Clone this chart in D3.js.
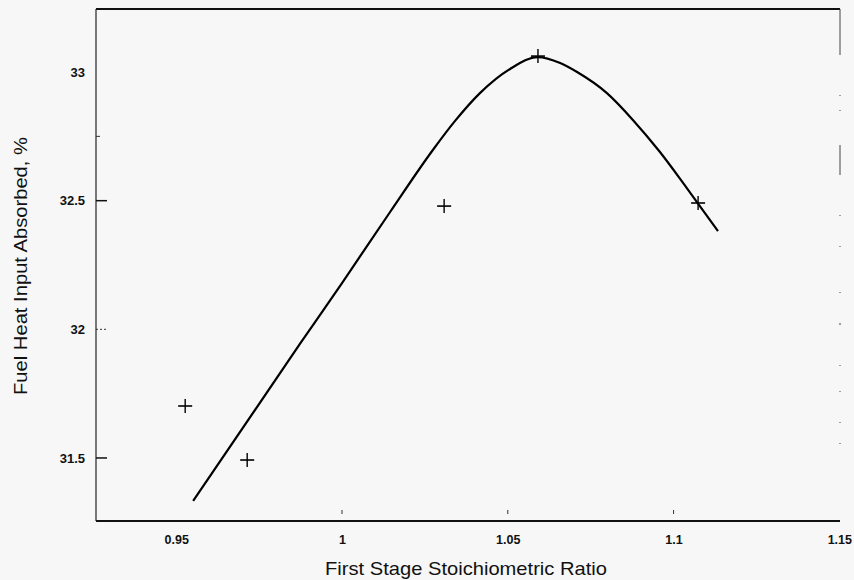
<!DOCTYPE html>
<html>
<head>
<meta charset="utf-8">
<script src="https://cdn.jsdelivr.net/npm/d3@7/dist/d3.min.js"></script>
<style>
  html, body { margin: 0; padding: 0; background: #f7f7f7; }
  svg { display: block; }
  text { font-family: Arial, "Liberation Sans", sans-serif; fill: #111; }
</style>
</head>
<body>
<svg id="chart" width="854" height="580"></svg>
<script>
// Measured points (+ markers)
const pointRatio    = [0.9527, 0.9714, 1.0308, 1.0591, 1.1074];
const pointAbsorbed = [31.702, 31.492, 32.479, 33.062, 32.491];

// Fitted curve
const curveRatio    = [0.9551, 0.9873, 1.0000, 1.0145, 1.0274, 1.0341, 1.0416, 1.0507, 1.0591, 1.0658, 1.0709, 1.0799, 1.0878, 1.0959, 1.1040, 1.1134];
const curveAbsorbed = [31.333, 31.943, 32.180, 32.456, 32.697, 32.810, 32.918, 33.012, 33.058, 33.035, 33.000, 32.918, 32.813, 32.689, 32.549, 32.382];

// Axis ticks
const xTicks = [0.95, 1, 1.05, 1.1, 1.15];
const xTickLabels = ["0.95", "1", "1.05", "1.1", "1.15"];
const yTicks = [31.5, 32, 32.5, 33];
const yTickLabels = ["31.5", "32", "32.5", "33"];

const xTitle = "First Stage Stoichiometric Ratio";
const yTitle = "Fuel Heat Input Absorbed, %";

const plot = { left: 96, right: 840, top: 9, bottom: 521 };

const x = d3.scaleLinear().domain([0.9258, 1.1502]).range([plot.left, plot.right]);
const y = d3.scaleLinear().domain([31.255, 33.245]).range([plot.bottom, plot.top]);

const svg = d3.select("#chart");

// Frame
const frame = svg.append("g");
frame.append("line").attr("x1", plot.left).attr("x2", plot.right).attr("y1", plot.top).attr("y2", plot.top)
  .attr("stroke", "#111").attr("stroke-width", 2);
frame.append("line").attr("x1", plot.left).attr("x2", plot.right).attr("y1", plot.bottom).attr("y2", plot.bottom)
  .attr("stroke", "#111").attr("stroke-width", 2);
frame.append("line").attr("x1", plot.left).attr("x2", plot.left).attr("y1", plot.top).attr("y2", plot.bottom)
  .attr("stroke", "#222").attr("stroke-width", 1.2);
frame.append("line").attr("x1", plot.right).attr("x2", plot.right).attr("y1", plot.top).attr("y2", plot.bottom)
  .attr("stroke", "#444").attr("stroke-width", 1)
  .attr("stroke-dasharray", "46,40,1,14,1,34,30,40,1,30,1,45,1,30,2,40,1,25,1,30,1,20,1,200");

// X axis labels
const xAxis = d3.axisBottom(x).tickValues(xTicks)
  .tickFormat((d, i) => xTickLabels[i]).tickSize(0).tickPadding(14);
const gx = svg.append("g").attr("transform", `translate(0,${plot.bottom})`).call(xAxis);
gx.select(".domain").remove();
gx.selectAll(".tick text").attr("font-size", 12.5).attr("font-weight", "bold").attr("fill", "#111");

// Short inward x tick marks, sitting just above the bottom edge
svg.append("g").selectAll("rect").data(xTicks.slice(1, 4)).join("rect")
  .attr("x", d => x(d) - 0.5).attr("y", plot.bottom - 11)
  .attr("width", 1).attr("height", 4)
  .attr("fill", "#333");

// Y axis labels
const yAxis = d3.axisLeft(y).tickValues(yTicks)
  .tickFormat((d, i) => yTickLabels[i]).tickSize(0).tickPadding(11);
const gy = svg.append("g").attr("transform", `translate(${plot.left},0)`).call(yAxis);
gy.select(".domain").remove();
gy.selectAll(".tick text").attr("font-size", 13).attr("font-weight", "bold").attr("fill", "#111");

// Inward y tick marks: solid at 31.5 and 32.5, dotted stub at 32, short stub near the top
svg.append("g").selectAll("rect").data([31.5, 32.5]).join("rect")
  .attr("x", plot.left).attr("y", d => y(d) - 0.75)
  .attr("width", 11).attr("height", 1.5)
  .attr("fill", "#111");
svg.append("g").selectAll("rect").data([0, 4, 8]).join("rect")
  .attr("x", d => plot.left + d).attr("y", y(32) - 0.5)
  .attr("width", 2).attr("height", 1)
  .attr("fill", "#333");
svg.append("rect").attr("x", plot.left).attr("y", y(32.75) - 0.5)
  .attr("width", 4).attr("height", 1).attr("fill", "#333");

// Curve
const line = d3.line().x(d => x(d[0])).y(d => y(d[1])).curve(d3.curveMonotoneX);
svg.append("path")
  .datum(curveRatio.map((r, i) => [r, curveAbsorbed[i]]))
  .attr("d", line)
  .attr("fill", "none").attr("stroke", "#000").attr("stroke-width", 2.2);

// + markers
const half = 7;
const marks = svg.append("g").selectAll("g")
  .data(pointRatio.map((r, i) => [r, pointAbsorbed[i]]))
  .join("g").attr("transform", d => `translate(${x(d[0])},${y(d[1])})`);
marks.append("line").attr("x1", -half).attr("x2", half).attr("y1", 0).attr("y2", 0)
  .attr("stroke", "#000").attr("stroke-width", 1.6);
marks.append("line").attr("x1", 0).attr("x2", 0).attr("y1", -half).attr("y2", half)
  .attr("stroke", "#000").attr("stroke-width", 1.4);

// Axis titles
svg.append("text").attr("x", 466).attr("y", 575).attr("text-anchor", "middle")
  .attr("font-size", 19).attr("textLength", 282).attr("lengthAdjust", "spacingAndGlyphs")
  .text(xTitle);
svg.append("text").attr("transform", "translate(27,266) rotate(-90)")
  .attr("text-anchor", "middle").attr("font-size", 18)
  .attr("textLength", 258).attr("lengthAdjust", "spacingAndGlyphs")
  .text(yTitle);
</script>
</body>
</html>
